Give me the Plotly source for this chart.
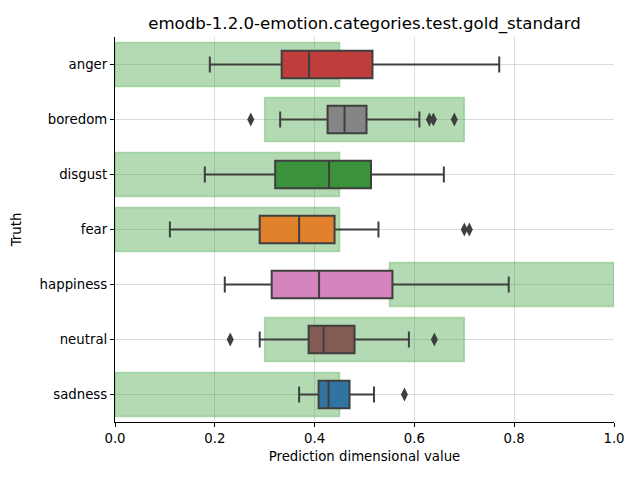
import plotly.graph_objects as go

categories = ["anger", "boredom", "disgust", "fear", "happiness", "neutral", "sadness"]
lower_whisker = [0.19, 0.331, 0.18, 0.11, 0.22, 0.29, 0.369]
q1 = [0.334, 0.426, 0.321, 0.29, 0.314, 0.388, 0.408]
median = [0.389, 0.46, 0.429, 0.369, 0.409, 0.418, 0.428]
q3 = [0.516, 0.504, 0.513, 0.44, 0.556, 0.48, 0.47]
upper_whisker = [0.77, 0.61, 0.659, 0.528, 0.789, 0.589, 0.519]
outlier_cat = ["boredom", "boredom", "boredom", "boredom", "fear", "fear", "neutral", "neutral", "sadness"]
outlier_val = [0.272, 0.63, 0.638, 0.68, 0.70, 0.71, 0.231, 0.64, 0.58]
range_low = [0.0, 0.3, 0.0, 0.0, 0.55, 0.3, 0.0]
range_high = [0.45, 0.7, 0.45, 0.45, 1.0, 0.7, 0.45]
box_colors = ["#c03d3e", "#858585", "#3a923a", "#e1812c", "#d684bd", "#845b53", "#3274a1"]

fig = go.Figure()

fig.add_trace(go.Bar(
    y=categories, x=[h - l for l, h in zip(range_low, range_high)], base=range_low,
    orientation="h", width=0.8,
    marker=dict(color="rgba(60,160,60,0.39)", line=dict(color="rgba(60,170,60,0.35)", width=1.5)),
    showlegend=False, hoverinfo="skip",
))

for i, c in enumerate(categories):
    fig.add_trace(go.Box(
        y=[c], q1=[q1[i]], median=[median[i]], q3=[q3[i]],
        lowerfence=[lower_whisker[i]], upperfence=[upper_whisker[i]],
        orientation="h", width=0.5, whiskerwidth=0.58,
        fillcolor=box_colors[i], line=dict(color="#3f3f3f", width=2),
        showlegend=False,
    ))

fig.add_trace(go.Scatter(
    y=outlier_cat, x=outlier_val, mode="markers",
    marker=dict(symbol="diamond-tall", size=10, color="#3f3f3f"),
    showlegend=False,
))

fig.update_layout(
    width=640, height=480,
    margin=dict(l=115, r=26, t=37, b=58),
    plot_bgcolor="white", paper_bgcolor="white",
    font=dict(family="DejaVu Sans", size=13.3, color="black"),
    title=dict(text="emodb-1.2.0-emotion.categories.test.gold_standard",
               x=0.5695, xanchor="center", y=0.952, yanchor="middle",
               font=dict(size=16.6)),
    barmode="overlay",
)
fig.update_xaxes(
    range=[0, 1], tickvals=[0, 0.2, 0.4, 0.6, 0.8, 1.0],
    ticktext=["0.0", "0.2", "0.4", "0.6", "0.8", "1.0"],
    showgrid=True, gridcolor="rgba(176,176,176,0.45)", gridwidth=1,
    showline=True, linecolor="black", linewidth=1.2,
    ticks="outside", ticklen=4, tickcolor="black",
    zeroline=False, layer="above traces",
    title=dict(text="Prediction dimensional value", font=dict(size=13.3), standoff=6),
)
fig.update_yaxes(
    categoryorder="array", categoryarray=categories, autorange=False,
    range=[6.5, -0.5],
    showgrid=True, gridcolor="rgba(176,176,176,0.45)", gridwidth=1,
    showline=True, linecolor="black", linewidth=1.2,
    ticks="outside", ticklen=4, tickcolor="black",
    zeroline=False, layer="above traces",
    title=dict(text="Truth", font=dict(size=13.3), standoff=14),
)

fig.write_html("out.html", config={"displayModeBar": False},
               post_script="document.body.style.margin='0';")
